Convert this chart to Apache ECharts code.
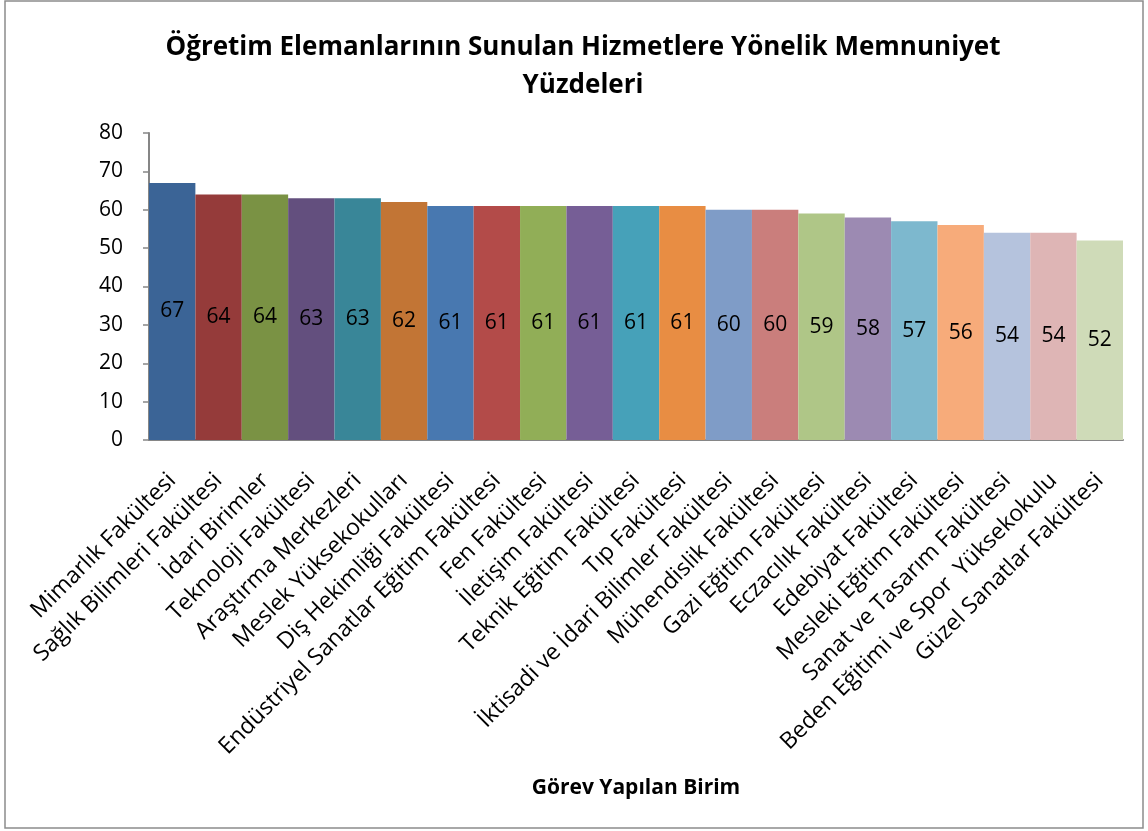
<!DOCTYPE html>
<html>
<head>
<meta charset="utf-8">
<script src="https://cdn.jsdelivr.net/npm/echarts@6/dist/echarts.min.js"></script>
<style>
  html, body { margin: 0; padding: 0; background: #fff; }
  #chart { width: 1148px; height: 831px; }
</style>
</head>
<body>
<div id="chart"></div>
<script>
// birimler ve memnuniyet yüzdeleri
var birimler = [
  "Mimarlık Fakültesi", "Sağlık Bilimleri Fakültesi", "İdari Birimler",
  "Teknoloji Fakültesi", "Araştırma Merkezleri", "Meslek Yüksekokulları",
  "Diş Hekimliği Fakültesi", "Endüstriyel Sanatlar Eğitim Fakültesi",
  "Fen Fakültesi", "İletişim Fakültesi", "Teknik Eğitim Fakültesi",
  "Tıp Fakültesi", "İktisadi ve İdari Bilimler Fakültesi",
  "Mühendislik Fakültesi", "Gazi Eğitim Fakültesi", "Eczacılık Fakültesi",
  "Edebiyat Fakültesi", "Mesleki Eğitim Fakültesi",
  "Sanat ve Tasarım Fakültesi", "Beden Eğitimi ve Spor  Yüksekokulu",
  "Güzel Sanatlar Fakültesi"
];
var yuzdeler = [67, 64, 64, 63, 63, 62, 61, 61, 61, 61, 61, 61, 60, 60, 59, 58, 57, 56, 54, 54, 52];
var renkler = [
  "#3b6496", "#953b3a", "#7a9244", "#634f7e", "#398698", "#c27535",
  "#4878b0", "#b34b49", "#91ae57", "#765e96", "#46a1b9", "#e88d43",
  "#7f9cc7", "#ca7e7c", "#afc687", "#9c8ab2", "#7db8ce", "#f7ab7a",
  "#b5c3dd", "#deb5b5", "#cfdbb8"
];
var yTicks = [0, 10, 20, 30, 40, 50, 60, 70, 80];

var font = "'Open Sans', 'Noto Sans', sans-serif";
var myChart = echarts.init(document.getElementById("chart"), null, { renderer: "canvas" });

var barData = [];
yuzdeler.forEach(function (v, i) {
  barData.push({ value: v, itemStyle: { color: renkler[i] } });
});

var option = {
  backgroundColor: "#fff",
  animation: false,
  title: {
    text: "Öğretim Elemanlarının Sunulan Hizmetlere Yönelik Memnuniyet\nYüzdeleri",
    left: 578,
    textAlign: "center",
    top: 24,
    textStyle: {
      fontFamily: font,
      fontSize: 26,
      fontWeight: "bold",
      color: "#000",
      lineHeight: 38
    }
  },
  graphic: [
    {
      type: "rect",
      shape: { x: 5, y: 1, width: 1138, height: 827 },
      style: { fill: null, stroke: "#8c8c8c", lineWidth: 1.5 }
    }
  ],
  grid: {
    left: 149,
    right: 25,
    top: 133,
    bottom: 391
  },
  xAxis: {
    type: "category",
    data: birimler,
    name: "Görev Yapılan Birim",
    nameLocation: "middle",
    nameGap: 338,
    nameMoveOverlap: false,
    nameTextStyle: {
      fontFamily: font,
      fontSize: 21,
      fontWeight: "bold",
      color: "#000"
    },
    axisLine: { lineStyle: { color: "#868686", width: 2 } },
    axisTick: { show: false },
    axisLabel: {
      rotate: 45,
      interval: 0,
      margin: 37,
      fontFamily: font,
      fontSize: 23,
      color: "#000"
    }
  },
  yAxis: {
    type: "value",
    min: 0,
    max: 80,
    interval: 10,
    splitLine: { show: false },
    axisLine: { show: true, lineStyle: { color: "#868686", width: 2 } },
    axisTick: { show: true, length: 6, lineStyle: { color: "#868686", width: 1.5 } },
    axisLabel: {
      margin: 26,
      fontFamily: font,
      fontSize: 21,
      color: "#000",
      formatter: function (v) {
        return yTicks.indexOf(v) >= 0 ? String(v) : "";
      }
    }
  },
  series: [
    {
      type: "bar",
      data: barData,
      barCategoryGap: "0%",
      label: {
        show: true,
        position: "inside",
        fontFamily: font,
        fontSize: 21,
        color: "#000"
      }
    }
  ]
};

myChart.setOption(option);
window.addEventListener("resize", myChart.resize);
</script>
</body>
</html>
